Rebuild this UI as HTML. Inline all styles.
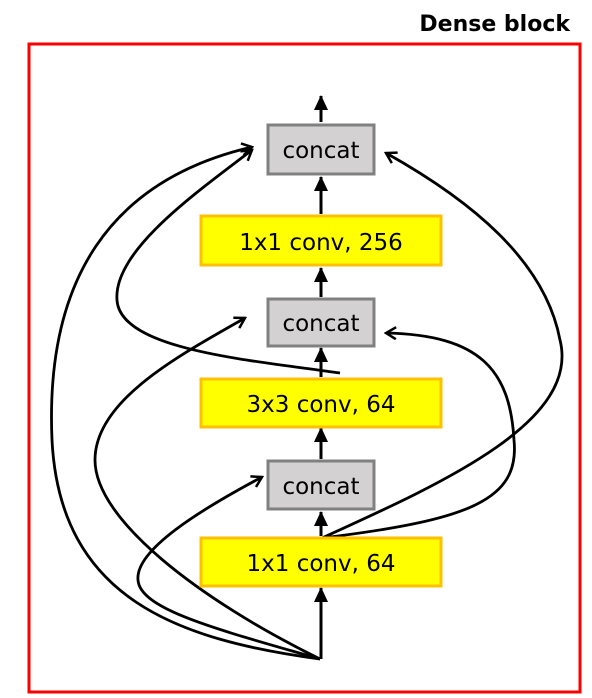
<!DOCTYPE html>
<html><head><style>
body{margin:0;background:#fff;}
svg{display:block;}
text{font-family:"DejaVu Sans","Liberation Sans",sans-serif;}
</style></head><body>
<svg width="592" height="698" viewBox="0 0 592 698" xmlns="http://www.w3.org/2000/svg">
<defs>
<marker id="o" markerWidth="14" markerHeight="14" refX="12" refY="7" orient="auto" markerUnits="userSpaceOnUse">
<polyline points="2,1 12,7 2,13" fill="none" stroke="#000" stroke-width="2.5"/>
</marker>
<marker id="f" markerWidth="16" markerHeight="16" refX="14" refY="8" orient="auto" markerUnits="userSpaceOnUse">
<polygon points="0,1 15,8 0,15" fill="#000"/>
</marker>
</defs>
<rect x="29" y="44" width="551" height="648" fill="none" stroke="#f00" stroke-width="3"/>
<text x="570" y="31" text-anchor="end" font-size="22" font-weight="bold" fill="#000">Dense block</text>

<g stroke="#000" stroke-width="3" fill="none">
<line x1="321" y1="122" x2="321" y2="96" marker-end="url(#f)"/>
<line x1="321" y1="214" x2="321" y2="177" marker-end="url(#f)"/>
<line x1="321" y1="297" x2="321" y2="268" marker-end="url(#f)"/>
<line x1="321" y1="377" x2="321" y2="348" marker-end="url(#f)"/>
<line x1="321" y1="459" x2="321" y2="428" marker-end="url(#f)"/>
<line x1="321" y1="536" x2="321" y2="512" marker-end="url(#f)"/>
<line x1="321" y1="659" x2="321" y2="588" marker-end="url(#f)"/>
</g>

<g stroke="#000" stroke-width="2.8" fill="none">
<path d="M322,538 C450,480 580,420 560,340 C545,260 470,200 386,153" marker-end="url(#o)"/>
<path d="M322,538 C470,520 520,500 514,440 C510,370 480,335 386,333" marker-end="url(#o)"/>
<path d="M320,659 C180,640 60,600 52,440 C45,280 110,180 252,147" marker-end="url(#o)"/>
<path d="M340,373 C250,360 120,350 117,300 C113,250 200,190 252,150" marker-end="url(#o)"/>
<path d="M320,659 C200,600 95,520 95,460 C95,400 180,355 245,318" marker-end="url(#o)"/>
<path d="M320,659 C220,630 140,610 138,580 C135,550 200,510 262,477" marker-end="url(#o)"/>
</g>

<g font-size="23" text-anchor="middle" fill="#000">
<rect x="268" y="125" width="106" height="49" fill="#d3d1d2" stroke="#808080" stroke-width="3"/>
<text x="321" y="158">concat</text>
<rect x="201" y="216" width="240" height="49" fill="#ffff00" stroke="#ffc000" stroke-width="3"/>
<text x="321" y="250">1x1 conv, 256</text>
<rect x="268" y="299" width="106" height="47" fill="#d3d1d2" stroke="#808080" stroke-width="3"/>
<text x="321" y="331">concat</text>
<rect x="201" y="379" width="240" height="48" fill="#ffff00" stroke="#ffc000" stroke-width="3"/>
<text x="321" y="412">3x3 conv, 64</text>
<rect x="268" y="461" width="106" height="48" fill="#d3d1d2" stroke="#808080" stroke-width="3"/>
<text x="321" y="494">concat</text>
<rect x="201" y="538" width="240" height="48" fill="#ffff00" stroke="#ffc000" stroke-width="3"/>
<text x="321" y="571">1x1 conv, 64</text>
</g>
</svg>
</body></html>
